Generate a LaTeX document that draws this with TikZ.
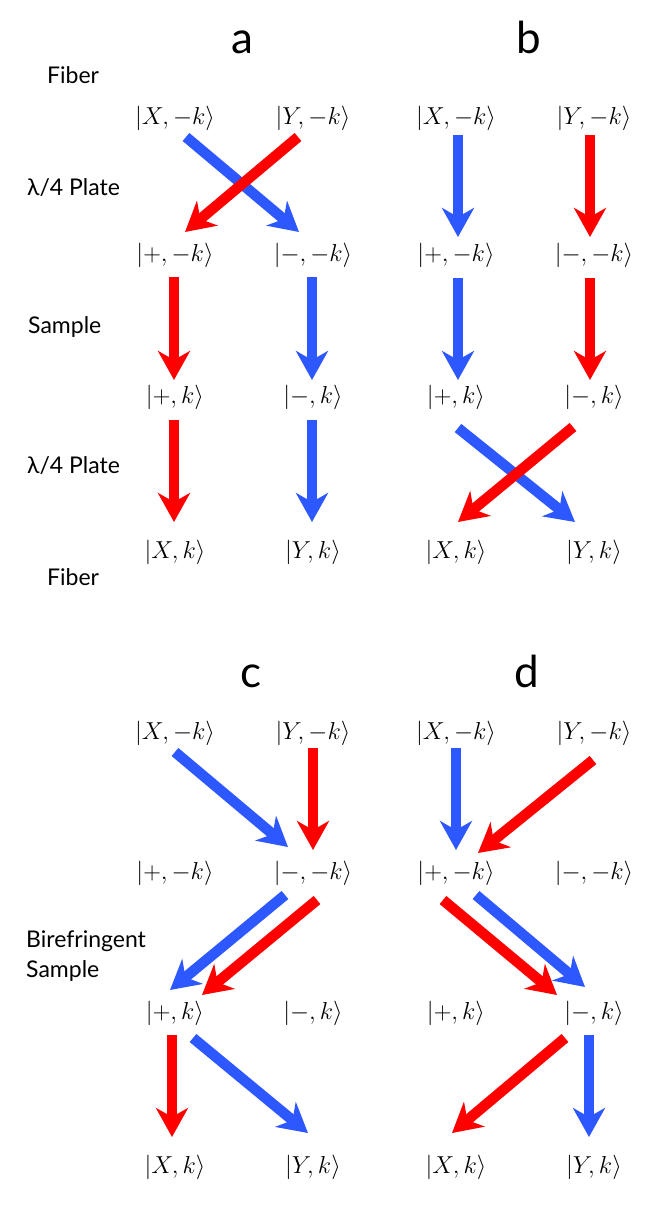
\documentclass[tikz,border=0pt]{standalone}
\usepackage{fix-cm}
\usepackage{fontspec}
\newfontfamily\labfont{Lato}
\usetikzlibrary{arrows.meta}
\definecolor{myblue}{RGB}{46,88,255}
\definecolor{myred}{RGB}{255,0,0}
\begin{document}
\begin{tikzpicture}[x=1pt,y=-1pt,
 st/.style={inner sep=0pt, font=\fontsize{24.5}{27}\selectfont},
 lab/.style={inner sep=0pt, anchor=base west, font=\labfont\fontsize{23}{26}\selectfont},
 ttl/.style={inner sep=0pt, anchor=base, font=\labfont\fontsize{44}{48}\selectfont},
 arr/.style={line width=10.5pt, -{Stealth[length=29pt,width=32pt,inset=9pt]}},
 bl/.style={arr, draw=myblue},
 rd/.style={arr, draw=myred}]
\useasboundingbox (0,0) rectangle (664,1219);

% titles
\node[ttl] (ta) at (242,53) {a};
\node[ttl] (tb) at (529,53) {b};
\node[ttl] (tc) at (251,687) {c};
\node[ttl] (td) at (527,687) {d};

% side labels
\node[lab] (l1) at (47,83) {Fiber};
\node[lab] (l2) at (27,195) {λ/4 Plate};
\node[lab] (l3) at (28,333) {Sample};
\node[lab] (l4) at (27,473) {λ/4 Plate};
\node[lab] (l5) at (47,585) {Fiber};
\node[lab] (l6) at (26,947) {Birefringent};
\node[lab] (l7) at (26,977) {Sample};

% panel a
\node[st] (aXm) at (175,118) {$|X,-k\rangle$};
\node[st] (aYm) at (313,118) {$|Y,-k\rangle$};
\node[st] (aPm) at (175,255) {$|+,-k\rangle$};
\node[st] (aMm) at (313,255) {$|-,-k\rangle$};
\node[st] (aPp) at (175,397) {$|+,k\rangle$};
\node[st] (aMp) at (313,397) {$|-,k\rangle$};
\node[st] (aXp) at (175,552) {$|X,k\rangle$};
\node[st] (aYp) at (313,552) {$|Y,k\rangle$};

% panel b
\node[st] (bXm) at (456,118) {$|X,-k\rangle$};
\node[st] (bYm) at (594,118) {$|Y,-k\rangle$};
\node[st] (bPm) at (456,255) {$|+,-k\rangle$};
\node[st] (bMm) at (594,255) {$|-,-k\rangle$};
\node[st] (bPp) at (456,397) {$|+,k\rangle$};
\node[st] (bMp) at (594,397) {$|-,k\rangle$};
\node[st] (bXp) at (456,552) {$|X,k\rangle$};
\node[st] (bYp) at (594,552) {$|Y,k\rangle$};

% panel c
\node[st] (cXm) at (175,733) {$|X,-k\rangle$};
\node[st] (cYm) at (313,733) {$|Y,-k\rangle$};
\node[st] (cPm) at (175,873) {$|+,-k\rangle$};
\node[st] (cMm) at (313,873) {$|-,-k\rangle$};
\node[st] (cPp) at (175,1013) {$|+,k\rangle$};
\node[st] (cMp) at (313,1013) {$|-,k\rangle$};
\node[st] (cXp) at (175,1167) {$|X,k\rangle$};
\node[st] (cYp) at (313,1167) {$|Y,k\rangle$};

% panel d
\node[st] (dXm) at (456,733) {$|X,-k\rangle$};
\node[st] (dYm) at (594,733) {$|Y,-k\rangle$};
\node[st] (dPm) at (456,873) {$|+,-k\rangle$};
\node[st] (dMm) at (594,873) {$|-,-k\rangle$};
\node[st] (dPp) at (456,1013) {$|+,k\rangle$};
\node[st] (dMp) at (594,1013) {$|-,k\rangle$};
\node[st] (dXp) at (456,1167) {$|X,k\rangle$};
\node[st] (dYp) at (594,1167) {$|Y,k\rangle$};

% arrows a
\draw[bl] ([shift={(11,19)}]aXm.center) -- ([shift={(-14,-23)}]aMm.center);
\draw[rd] ([shift={(-15,19)}]aYm.center) -- ([shift={(10,-23)}]aPm.center);
\draw[rd] ([shift={(-1,22)}]aPm.center) -- ([shift={(-1,-17)}]aPp.center);
\draw[bl] ([shift={(-1,22)}]aMm.center) -- ([shift={(-1,-17)}]aMp.center);
\draw[rd] ([shift={(-1,23)}]aPp.center) -- ([shift={(-1,-30)}]aXp.center);
\draw[bl] ([shift={(-1,23)}]aMp.center) -- ([shift={(-1,-30)}]aYp.center);

% arrows b
\draw[bl] ([shift={(2,17)}]bXm.center) -- ([shift={(2,-18)}]bPm.center);
\draw[rd] ([shift={(-4,17)}]bYm.center) -- ([shift={(-4,-18)}]bMm.center);
\draw[bl] ([shift={(2,23)}]bPm.center) -- ([shift={(2,-17)}]bPp.center);
\draw[rd] ([shift={(-4,23)}]bMm.center) -- ([shift={(-4,-17)}]bMp.center);
\draw[bl] ([shift={(2,31)}]bPp.center) -- ([shift={(-19,-30)}]bYp.center);
\draw[rd] ([shift={(-21,30)}]bMp.center) -- ([shift={(2,-30)}]bXp.center);

% arrows c
\draw[bl] ([shift={(0,19)}]cXm.center) -- ([shift={(-25,-26)}]cMm.center);
\draw[rd] ([shift={(0,15)}]cYm.center) -- ([shift={(0,-23)}]cMm.center);
\draw[bl] ([shift={(-28,22)}]cMm.center) -- ([shift={(-5,-23)}]cPp.center);
\draw[rd] ([shift={(4,27)}]cMm.center) -- ([shift={(27,-18)}]cPp.center);
\draw[rd] ([shift={(-3,22)}]cPp.center) -- ([shift={(-3,-30)}]cXp.center);
\draw[bl] ([shift={(18,25)}]cPp.center) -- ([shift={(-5,-34)}]cYp.center);

% arrows d
\draw[bl] ([shift={(0,15)}]dXm.center) -- ([shift={(0,-23)}]dPm.center);
\draw[rd] ([shift={(-1,27)}]dYm.center) -- ([shift={(22,-20)}]dPm.center);
\draw[rd] ([shift={(-13,27)}]dPm.center) -- ([shift={(-37,-18)}]dMp.center);
\draw[bl] ([shift={(20,22)}]dPm.center) -- ([shift={(-9,-26)}]dMp.center);
\draw[rd] ([shift={(-29,25)}]dMp.center) -- ([shift={(-4,-34)}]dXp.center);
\draw[bl] ([shift={(-5,22)}]dMp.center) -- ([shift={(-5,-30)}]dYp.center);
\end{tikzpicture}
\end{document}
